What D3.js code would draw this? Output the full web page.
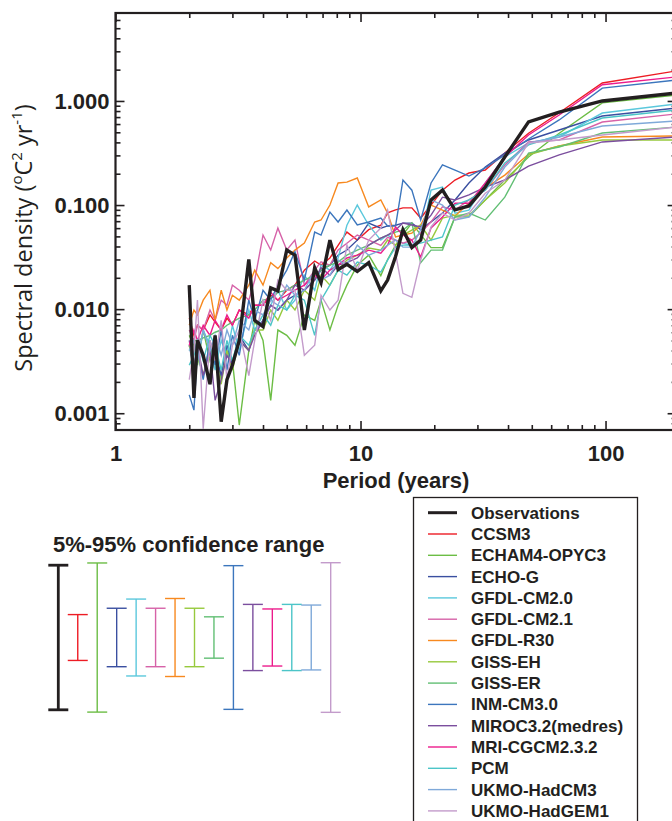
<!DOCTYPE html>
<html>
<head>
<meta charset="utf-8">
<script src="https://cdn.jsdelivr.net/npm/d3@7"></script>
<style>
  body { margin: 0; background: #fff; }
  svg { display: block; }
</style>
</head>
<body>
<div id="chart"></div>
<script>
// Periods (years) of the spectral estimates, shared by every series
const periods = [194, 97, 64.7, 48.5, 38.8, 32.3, 27.7, 24.3, 21.6, 19.4,
  17.6, 16.2, 14.9, 13.9, 12.9, 12.1, 10.8, 9.7, 8.8, 8.1,
  7.5, 6.9, 6.5, 5.9, 5.4, 5.0, 4.6, 4.3, 4.0, 3.7,
  3.5, 3.2, 3.0, 2.85, 2.7, 2.55, 2.43, 2.28, 2.16, 2.09,
  2.0];

// Spectral density (degC^2 yr^-1)
const observations = [1.19, 1.00, 0.78, 0.63, 0.29, 0.149, 0.098, 0.090, 0.139, 0.112,
  0.046, 0.039, 0.058, 0.032, 0.019, 0.015, 0.028, 0.023, 0.027, 0.024,
  0.046, 0.018, 0.025, 0.0063, 0.033, 0.037, 0.015, 0.016, 0.0068, 0.0078,
  0.030, 0.0050, 0.0029, 0.0021, 0.00083, 0.0056, 0.0019, 0.0036, 0.0050, 0.0014,
  0.017];
const ccsm3 = [1.94, 1.49, 0.77, 0.49, 0.316, 0.217, 0.203, 0.174, 0.139, 0.100,
  0.075, 0.094, 0.094, 0.090, 0.084, 0.064, 0.058, 0.046, 0.055, 0.041,
  0.031, 0.0265, 0.029, 0.0237, 0.017, 0.0152, 0.0122, 0.0136, 0.0109, 0.0109,
  0.0088, 0.0098, 0.0070, 0.0082, 0.0063, 0.0075, 0.0088, 0.0063, 0.0070, 0.0056,
  0.0082];
const echam4 = [1.14, 0.96, 0.49, 0.29, 0.174, 0.112, 0.077, 0.077, 0.039, 0.039,
  0.052, 0.067, 0.052, 0.041, 0.030, 0.021, 0.033, 0.0265, 0.017, 0.0109,
  0.0063, 0.0122, 0.0078, 0.0088, 0.0045, 0.0056, 0.0063, 0.00133, 0.0050, 0.0078,
  0.0040, 0.00077, 0.0032, 0.0040, 0.0021, 0.0045, 0.0032, 0.0063, 0.0029, 0.0045,
  0.0056];
const echoG = [0.856, 0.717, 0.526, 0.422, 0.316, 0.232, 0.163, 0.112, 0.084, 0.069,
  0.058, 0.067, 0.067, 0.064, 0.063, 0.060, 0.067, 0.046, 0.037, 0.033,
  0.0265, 0.0237, 0.019, 0.0152, 0.0136, 0.0122, 0.0098, 0.0109, 0.0078, 0.0063,
  0.0040, 0.0056, 0.0029, 0.0045, 0.0023, 0.0040, 0.0019, 0.0036, 0.0050, 0.0026,
  0.0045];
const gfdlCm20 = [0.936, 0.766, 0.451, 0.395, 0.29, 0.163, 0.0895, 0.0837, 0.149, 0.139,
  0.046, 0.041, 0.043, 0.046, 0.0515, 0.046, 0.064, 0.100, 0.064, 0.031,
  0.0237, 0.0265, 0.0152, 0.0212, 0.0122, 0.0098, 0.0152, 0.0109, 0.0078, 0.0063,
  0.0098, 0.0040, 0.0070, 0.0036, 0.0050, 0.0026, 0.0045, 0.0063, 0.0032, 0.0050,
  0.0040];
const gfdlCm21 = [0.75, 0.628, 0.422, 0.404, 0.243, 0.139, 0.112, 0.0895, 0.096, 0.069,
  0.054, 0.046, 0.043, 0.046, 0.049, 0.041, 0.046, 0.0515, 0.043, 0.037,
  0.0265, 0.0285, 0.0237, 0.017, 0.046, 0.037, 0.060, 0.037, 0.0515, 0.019,
  0.0122, 0.0152, 0.017, 0.0109, 0.0122, 0.0078, 0.0098, 0.0063, 0.0070, 0.0050,
  0.0063];
const gfdlR30 = [0.461, 0.451, 0.369, 0.309, 0.194, 0.146, 0.104, 0.0785, 0.0895, 0.100,
  0.0643, 0.0538, 0.0515, 0.0493, 0.0837, 0.112, 0.096, 0.182, 0.166, 0.163,
  0.100, 0.0718, 0.0687, 0.0431, 0.0369, 0.031, 0.0245, 0.028, 0.017, 0.0237,
  0.017, 0.0122, 0.0136, 0.0098, 0.0152, 0.0078, 0.0152, 0.0122, 0.0088, 0.0098,
  0.0070];
const gissEh = [0.422, 0.422, 0.369, 0.303, 0.163, 0.112, 0.080, 0.080, 0.075, 0.046,
  0.0643, 0.0575, 0.0515, 0.0412, 0.0461, 0.0369, 0.0386, 0.033, 0.0296, 0.0237,
  0.017, 0.0212, 0.0122, 0.0152, 0.0098, 0.0122, 0.0078, 0.0098, 0.0063, 0.0063,
  0.0040, 0.0050, 0.0026, 0.0040, 0.0019, 0.0032, 0.0045, 0.0023, 0.0036, 0.0029,
  0.0045];
const gissEr = [0.562, 0.492, 0.361, 0.316, 0.119, 0.0718, 0.0837, 0.0767, 0.0369, 0.0369,
  0.028, 0.0672, 0.0575, 0.055, 0.0515, 0.0482, 0.0412, 0.0369, 0.033, 0.0283,
  0.0265, 0.0237, 0.0212, 0.019, 0.017, 0.0152, 0.0145, 0.0127, 0.0122, 0.0098,
  0.0088, 0.0082, 0.0075, 0.0070, 0.0063, 0.0060, 0.0056, 0.0053, 0.0050, 0.0050,
  0.0048];
const inmCm30 = [1.59, 1.33, 0.657, 0.431, 0.303, 0.227, 0.19, 0.217, 0.243, 0.163,
  0.0718, 0.139, 0.174, 0.063, 0.063, 0.075, 0.0687, 0.0643, 0.0895, 0.0687,
  0.0856, 0.0515, 0.055, 0.019, 0.0357, 0.0237, 0.017, 0.0122, 0.0152, 0.0078,
  0.0122, 0.0036, 0.0056, 0.0026, 0.0063, 0.0029, 0.0050, 0.0021, 0.0040, 0.00107,
  0.0015];
const miroc = [0.451, 0.404, 0.303, 0.237, 0.174, 0.149, 0.125, 0.112, 0.119, 0.080,
  0.0616, 0.0643, 0.0672, 0.0575, 0.0515, 0.0482, 0.0412, 0.031, 0.028, 0.0265,
  0.0212, 0.025, 0.019, 0.0152, 0.017, 0.0122, 0.0098, 0.0109, 0.0078, 0.0056,
  0.0040, 0.0050, 0.0029, 0.0036, 0.0021, 0.00133, 0.0040, 0.0023, 0.0045, 0.0026,
  0.0050];
const mri = [1.70, 1.43, 0.733, 0.471, 0.29, 0.163, 0.104, 0.104, 0.0767, 0.0602,
  0.0317, 0.0461, 0.0515, 0.0616, 0.0412, 0.0345, 0.0369, 0.033, 0.031, 0.0265,
  0.0237, 0.019, 0.0212, 0.017, 0.0152, 0.0136, 0.0122, 0.0145, 0.0109, 0.0109,
  0.0082, 0.0098, 0.0070, 0.0088, 0.0063, 0.0078, 0.0056, 0.0070, 0.0050, 0.0063,
  0.0045];
const pcm = [0.819, 0.686, 0.471, 0.378, 0.254, 0.139, 0.112, 0.100, 0.0493, 0.0461,
  0.0431, 0.0412, 0.0412, 0.0394, 0.0296, 0.0227, 0.0265, 0.0283, 0.0212, 0.0237,
  0.017, 0.0122, 0.0056, 0.0122, 0.0136, 0.0098, 0.0109, 0.0070, 0.0088, 0.0063,
  0.0045, 0.0056, 0.0032, 0.0050, 0.0026, 0.0045, 0.0056, 0.0032, 0.0050, 0.0036,
  0.0029];
const hadCm3 = [0.642, 0.575, 0.451, 0.395, 0.232, 0.119, 0.0767, 0.0718, 0.100, 0.112,
  0.0575, 0.0394, 0.0394, 0.0461, 0.0412, 0.0369, 0.033, 0.0412, 0.0265, 0.0296,
  0.0212, 0.019, 0.0237, 0.0152, 0.0136, 0.017, 0.0109, 0.0122, 0.0088, 0.0098,
  0.0063, 0.0078, 0.0045, 0.0063, 0.0036, 0.0056, 0.0040, 0.0063, 0.0032, 0.0050,
  0.0040];
const hadGem1 = [0.562, 0.471, 0.422, 0.395, 0.174, 0.130, 0.0837, 0.0718, 0.0837, 0.0616,
  0.0296, 0.013, 0.0142, 0.0345, 0.0895, 0.0602, 0.0461, 0.0237, 0.0412, 0.0122,
  0.0098, 0.0136, 0.0045, 0.0036, 0.0152, 0.0152, 0.019, 0.0078, 0.0122, 0.0050,
  0.0023, 0.0063, 0.0045, 0.0021, 0.0078, 0.0032, 0.0050, 0.00071, 0.0122, 0.0040,
  0.0021];

const names = ["Observations", "CCSM3", "ECHAM4-OPYC3", "ECHO-G", "GFDL-CM2.0",
  "GFDL-CM2.1", "GFDL-R30", "GISS-EH", "GISS-ER", "INM-CM3.0",
  "MIROC3.2(medres)", "MRI-CGCM2.3.2", "PCM", "UKMO-HadCM3", "UKMO-HadGEM1"];
const colors = ["#231f20", "#ed1c24", "#6cbd45", "#3a4fa0", "#5bc8dc",
  "#d662a8", "#f7891f", "#97c93d", "#62bf74", "#3c76bd",
  "#7b4e9e", "#ec1c8c", "#4cc5c8", "#7fa9d9", "#c39bcb"];
const seriesValues = [observations, ccsm3, echam4, echoG, gfdlCm20,
  gfdlCm21, gfdlR30, gissEh, gissEr, inmCm30,
  miroc, mri, pcm, hadCm3, hadGem1];

// 5%-95% confidence range as factors of the spectral estimate
const ciLower = [0.202, 0.602, 0.192, 0.524, 0.427, 0.524, 0.422, 0.524, 0.633, 0.204, 0.481, 0.532, 0.481, 0.488, 0.191];
const ciUpper = [4.95, 1.66, 5.2, 1.91, 2.34, 1.91, 2.37, 1.91, 1.58, 4.9, 2.08, 1.88, 2.08, 2.05, 5.23];

const xMajor = [1, 10, 100];
const xMinor = [2, 3, 4, 5, 6, 7, 8, 9, 20, 30, 40, 50, 60, 70, 80, 90];
const yMajor = [0.001, 0.01, 0.1, 1];
const yMinor = [0.0007, 0.0008, 0.0009, 0.002, 0.003, 0.004, 0.005, 0.006, 0.007, 0.008, 0.009,
  0.02, 0.03, 0.04, 0.05, 0.06, 0.07, 0.08, 0.09, 0.2, 0.3, 0.4, 0.5, 0.6, 0.7, 0.8, 0.9,
  2, 3, 4, 5, 6];

const width = 672, height = 821;
const plot = {left: 115.5, right: 676.6, top: 13, bottom: 430};
const ink = "#231f20";
const boldFont = "'Liberation Sans', Arial, Helvetica, sans-serif";

const svg = d3.select("#chart")
  .append("svg")
  .attr("width", width)
  .attr("height", height)
  .style("background", "#fff");

const x = d3.scaleLog()
  .domain([1, 195])
  .range([plot.left, plot.right]);

const y = d3.scaleLog()
  .domain([0.00069, 7.0])
  .range([plot.bottom, plot.top]);

// clip the spectra to the frame
svg.append("clipPath")
  .attr("id", "plot-clip")
  .append("rect")
  .attr("x", plot.left)
  .attr("y", plot.top)
  .attr("width", plot.right - plot.left)
  .attr("height", plot.bottom - plot.top);

// Axes: ticks all point into the frame
function styleAxis(g) {
  g.select(".domain").remove();
  g.selectAll(".tick line").attr("stroke", ink).attr("stroke-width", 1.6);
  g.selectAll(".tick text")
    .attr("fill", ink)
    .style("font-family", boldFont)
    .style("font-weight", "bold")
    .style("font-size", "22px");
}

svg.append("g")
  .attr("transform", `translate(0,${plot.bottom})`)
  .call(d3.axisBottom(x).tickValues(xMajor).tickFormat(d3.format("d")).tickSize(-9).tickPadding(15))
  .call(styleAxis);
svg.append("g")
  .attr("transform", `translate(0,${plot.bottom})`)
  .call(d3.axisBottom(x).tickValues(xMinor).tickFormat("").tickSize(-5))
  .call(styleAxis);
svg.append("g")
  .attr("transform", `translate(0,${plot.top})`)
  .call(d3.axisTop(x).tickValues(xMajor).tickFormat("").tickSize(-9))
  .call(styleAxis);
svg.append("g")
  .attr("transform", `translate(0,${plot.top})`)
  .call(d3.axisTop(x).tickValues(xMinor).tickFormat("").tickSize(-5))
  .call(styleAxis);

svg.append("g")
  .attr("transform", `translate(${plot.left},0)`)
  .call(d3.axisLeft(y).tickValues(yMajor).tickFormat(d3.format(".3f")).tickSize(-9).tickPadding(6))
  .call(styleAxis);
svg.append("g")
  .attr("transform", `translate(${plot.left},0)`)
  .call(d3.axisLeft(y).tickValues(yMinor).tickFormat("").tickSize(-5))
  .call(styleAxis);
svg.append("g")
  .attr("transform", `translate(${plot.right},0)`)
  .call(d3.axisRight(y).tickValues(yMajor).tickFormat("").tickSize(-9))
  .call(styleAxis);
svg.append("g")
  .attr("transform", `translate(${plot.right},0)`)
  .call(d3.axisRight(y).tickValues(yMinor).tickFormat("").tickSize(-5))
  .call(styleAxis);

// Spectra: models first, observations on top
const line = d3.line()
  .x((d, i) => x(periods[i]))
  .y(d => y(d));

const order = d3.range(1, names.length).concat([0]);
svg.append("g")
  .attr("clip-path", "url(#plot-clip)")
  .selectAll("path")
  .data(order)
  .enter()
  .append("path")
  .attr("d", i => line(seriesValues[i]))
  .attr("fill", "none")
  .attr("stroke", i => colors[i])
  .attr("stroke-width", i => i === 0 ? 3.4 : 1.4)
  .attr("stroke-linejoin", "miter");

// Frame
svg.append("rect")
  .attr("x", plot.left)
  .attr("y", plot.top)
  .attr("width", plot.right - plot.left)
  .attr("height", plot.bottom - plot.top)
  .attr("fill", "none")
  .attr("stroke", ink)
  .attr("stroke-width", 2.2);

// Axis titles
svg.append("text")
  .attr("x", (plot.left + plot.right) / 2)
  .attr("y", 488)
  .attr("text-anchor", "middle")
  .attr("fill", ink)
  .style("font-family", boldFont)
  .style("font-weight", "bold")
  .style("font-size", "22px")
  .text("Period (years)");

const yTitle = svg.append("text")
  .attr("transform", "translate(32,238) rotate(-90)")
  .attr("text-anchor", "middle")
  .attr("fill", ink)
  .style("font-family", "'Open Sans', 'Noto Sans', sans-serif")
  .style("font-size", "23.5px");
yTitle.append("tspan").text("Spectral density (");
yTitle.append("tspan").attr("baseline-shift", "super").style("font-size", "15px").text("o");
yTitle.append("tspan").text("C");
yTitle.append("tspan").attr("baseline-shift", "super").style("font-size", "15px").text("2");
yTitle.append("tspan").text(" yr");
yTitle.append("tspan").attr("baseline-shift", "super").style("font-size", "15px").text("-1");
yTitle.append("tspan").text(")");

// Confidence range panel
svg.append("text")
  .attr("x", 53)
  .attr("y", 552)
  .attr("fill", ink)
  .style("font-family", boldFont)
  .style("font-weight", "bold")
  .style("font-size", "22px")
  .text("5%-95% confidence range");

const ciX = d3.scalePoint()
  .domain(names)
  .range([58.3, 330.7]);

// same pixels per decade as the spectrum panel, centred on the bar midline
const decade = y(0.001) - y(0.01);
const ciY = d3.scaleLog()
  .domain([0.1, 10])
  .range([637.5 + decade, 637.5 - decade]);

const bars = svg.append("g")
  .selectAll("g")
  .data(names)
  .enter()
  .append("g")
  .attr("stroke", (d, i) => colors[i])
  .attr("stroke-width", (d, i) => i === 0 ? 2.8 : 1.4);

bars.append("line")
  .attr("x1", d => ciX(d)).attr("x2", d => ciX(d))
  .attr("y1", (d, i) => ciY(ciUpper[i]))
  .attr("y2", (d, i) => ciY(ciLower[i]));
bars.append("line")
  .attr("x1", d => ciX(d) - 10).attr("x2", d => ciX(d) + 10)
  .attr("y1", (d, i) => ciY(ciUpper[i]))
  .attr("y2", (d, i) => ciY(ciUpper[i]));
bars.append("line")
  .attr("x1", d => ciX(d) - 10).attr("x2", d => ciX(d) + 10)
  .attr("y1", (d, i) => ciY(ciLower[i]))
  .attr("y2", (d, i) => ciY(ciLower[i]));

// Legend
const legend = svg.append("g");
legend.append("rect")
  .attr("x", 413.5)
  .attr("y", 497.5)
  .attr("width", 224)
  .attr("height", 340)
  .attr("fill", "none")
  .attr("stroke", ink)
  .attr("stroke-width", 1.3);

names.forEach((name, i) => {
  const ly = 512.7 + i * 21.3;
  legend.append("line")
    .attr("x1", 428).attr("x2", 457)
    .attr("y1", ly).attr("y2", ly)
    .attr("stroke", colors[i])
    .attr("stroke-width", i === 0 ? 3 : 1.4);
  legend.append("text")
    .attr("x", 471)
    .attr("y", ly)
    .attr("dy", "0.35em")
    .attr("fill", ink)
    .style("font-family", boldFont)
    .style("font-weight", "bold")
    .style("font-size", "17px")
    .text(name);
});
</script>
</body>
</html>
